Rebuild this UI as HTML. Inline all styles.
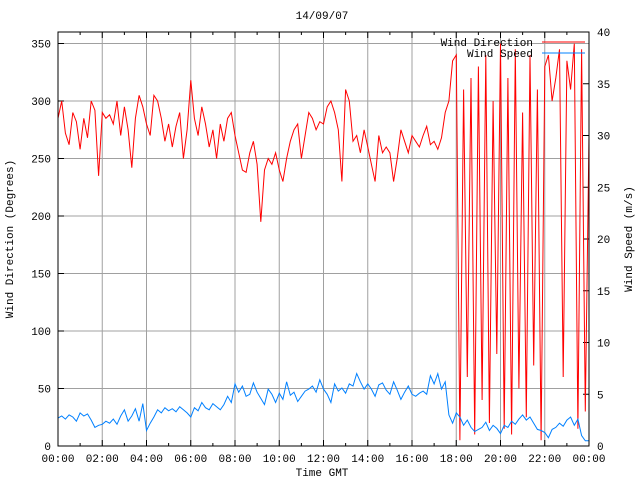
<!DOCTYPE html>
<html><head><meta charset="utf-8"><style>
body{margin:0;background:#fff}
svg{display:block;font-family:"Liberation Mono",monospace;font-size:11px}
</style></head><body>
<svg id="c" width="640" height="480"></svg>
<script>
const xTickLabels=["00:00","02:00","04:00","06:00","08:00","10:00","12:00","14:00","16:00","18:00","20:00","22:00","00:00"];
const yLeftTicks=[0,50,100,150,200,250,300,350];
const yRightTicks=[0,5,10,15,20,25,30,35,40];
const direction=[
285,300,272,262,290,282, 258,285,268,300,292,235,
290,285,288,280,300,270, 295,275,242,285,305,295,
280,270,305,300,285,265, 280,260,278,290,250,275,
318,285,270,295,280,260, 275,250,280,265,285,290,
270,255,240,238,255,265, 245,195,240,250,245,255,
240,230,250,265,275,280, 250,270,290,285,275,282,
280,295,300,290,275,230, 310,300,265,270,255,275,
260,245,230,270,255,260, 255,230,250,275,265,255,
270,265,260,270,278,262, 265,258,268,290,300,335,
340,5,310,60,320,10, 330,40,340,20,300,80,
350,15,320,10,345,50, 290,25,340,70,310,5,
330,340,300,320,345,60, 335,310,350,15,345,30, 270];
const speed=[
2.7,2.9,2.6,3.0,2.8,2.4, 3.2,2.9,3.1,2.5,1.8,2.0,
2.1,2.4,2.2,2.6,2.1,2.9, 3.5,2.4,2.9,3.6,2.4,4.1,
1.5,2.2,2.8,3.5,3.2,3.7, 3.4,3.6,3.3,3.8,3.5,3.2,
2.8,3.7,3.4,4.2,3.7,3.5, 4.1,3.8,3.5,4.0,4.8,4.2,
6.0,5.2,5.8,4.8,5.0,6.1, 5.2,4.6,4.0,5.5,5.0,4.2,
5.1,4.5,6.2,4.9,5.2,4.3, 4.8,5.3,5.5,5.8,5.2,6.4,
5.5,5.0,4.2,6.0,5.3,5.6, 5.1,6.0,5.8,7.0,6.2,5.5,
6.0,5.5,4.8,5.9,6.1,5.4, 5.0,6.2,5.4,4.5,5.2,5.8,
5.0,4.8,5.1,5.3,5.0,6.8, 6.0,7.0,5.5,6.2,3.0,2.2,
3.2,2.8,2.0,2.5,1.8,1.4, 1.6,1.8,2.3,1.5,2.0,1.7,
1.2,2.0,1.8,2.4,2.1,2.6, 3.0,2.5,2.8,2.2,1.6,1.5,
1.3,0.8,1.6,1.8,2.2,1.9, 2.5,2.8,2.0,2.6,1.0,0.5, 0.5];

const L=58,R=589,T=32,B=446;
const xOf=h=>L+(R-L)*h/24;
const yDir=v=>B-(B-T)*v/360;
const ySpd=v=>B-(B-T)*v/40;
const svg=document.getElementById('c');
const NS='http://www.w3.org/2000/svg';
function mk(tag,attrs,parent){const e=document.createElementNS(NS,tag);for(const k in attrs)e.setAttribute(k,attrs[k]);(parent||svg).appendChild(e);return e;}
function txt(x,y,s,anchor){const t=mk('text',{x:x,y:y,'text-anchor':anchor||'middle',fill:'#000'});t.textContent=s;return t;}

// grid
for(let i=0;i<xTickLabels.length;i++){const x=xOf(i*2);
 const g=mk('line',{x1:x,x2:x,y1:T,y2:B,stroke:'#a0a0a0'});
 
 
 const t=txt(x,462,xTickLabels[i]);
 
 }
for(const v of yLeftTicks){const y=yDir(v);
 const g=mk('line',{x1:L,x2:R,y1:y,y2:y,stroke:'#a0a0a0'});
 
 
 mk('line',{x1:L,x2:L+6,y1:y,y2:y,stroke:'#000'});
 const t=txt(51,y+4,String(v),'end');
 
 }
for(const v of yRightTicks){const y=ySpd(v);
 mk('line',{x1:R-6,x2:R,y1:y,y2:y,stroke:'#000'});
 const t=txt(597,y+4,String(v),'start');
 
 }
for(let h=0;h<=24;h++){const x=xOf(h);const len=h%2?3:6;
 mk('line',{x1:x,x2:x,y1:B,y2:B-len,stroke:'#000'});
 mk('line',{x1:x,x2:x,y1:T,y2:T+len,stroke:'#000'});}

// series
const step=24/(direction.length-1);
const dPts=direction.map((v,i)=>xOf(i*step).toFixed(1)+','+yDir(v).toFixed(1)).join(' ');
const dl=mk('polyline',{points:dPts,fill:'none',stroke:'#ff0000','stroke-width':1});


const s2=24/(speed.length-1);
const sPts=speed.map((v,i)=>xOf(i*s2).toFixed(1)+','+ySpd(v).toFixed(1)).join(' ');
const sl=mk('polyline',{points:sPts,fill:'none',stroke:'#0080ff','stroke-width':1});



// border
const bd=mk('rect',{x:L,y:T,width:R-L,height:B-T,fill:'none',stroke:'#000'});



// titles
const ti=txt(322,19,'14/09/07');


const xt=txt(322,476,'Time GMT');


const yl=txt(0,0,'Wind Direction (Degrees)');
yl.setAttribute('transform','translate(13,239) rotate(-90)');


const yr=txt(0,0,'Wind Speed (m/s)');
yr.setAttribute('transform','translate(632,239) rotate(-90)');



// legend
const l1=txt(533,46,'Wind Direction','end');


const k1=mk('line',{x1:542,x2:585,y1:42,y2:42,stroke:'#ff0000'});


const l2=txt(533,57,'Wind Speed','end');


const k2=mk('line',{x1:542,x2:585,y1:53,y2:53,stroke:'#0080ff'});


</script>
</body></html>
